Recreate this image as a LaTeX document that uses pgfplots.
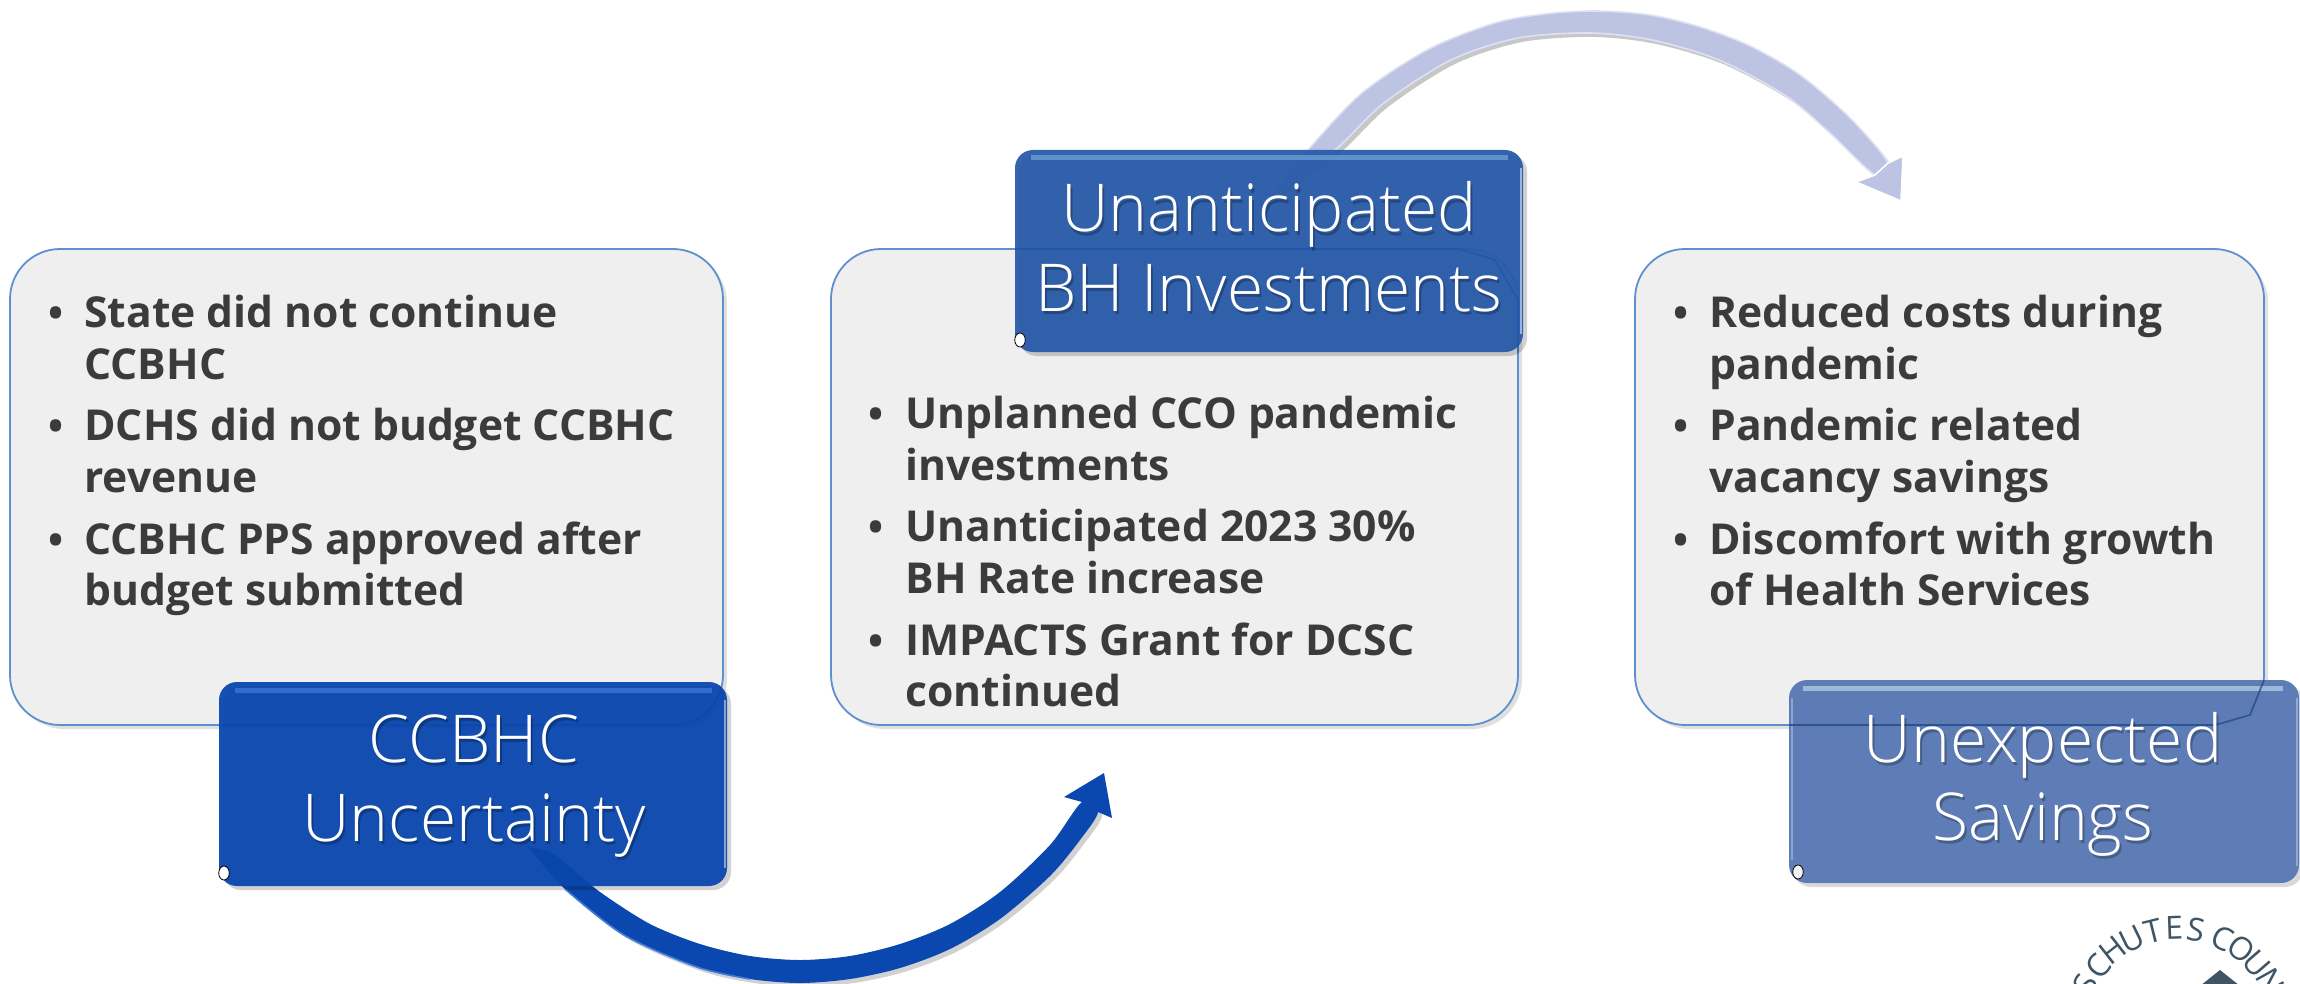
\documentclass[border=0pt]{standalone}
\usepackage{fontspec}
\setmainfont{Open Sans}
\newfontfamily\lightfont{Open Sans Light}
\usepackage{pgfplots}
\usepackage{pgfplotstable}
\pgfplotsset{compat=1.18}

\definecolor{panel}{HTML}{EFEFEF}
\definecolor{paneledge}{HTML}{5E8FD0}
\definecolor{bodytext}{HTML}{3B3B3B}
\definecolor{blueA}{HTML}{0A47AE}
\definecolor{blueB}{HTML}{2A5BAA}
\definecolor{blueC}{HTML}{5A7AB6}
\definecolor{stripA}{HTML}{3F7BD8}
\definecolor{stripB}{HTML}{6B9FD6}
\definecolor{stripC}{HTML}{A3C2DC}
\definecolor{lilac}{HTML}{BCC3E3}
\definecolor{slate}{HTML}{3F5566}
\definecolor{logosky}{HTML}{6BA8DD}
\definecolor{logosun}{HTML}{FBD800}

% arrow shafts, outer edge then inner edge, in pixels of the reference
\pgfplotstableread{
x y
528 847
565 889
624 935
697 967
750 979
800 983
850 979
900 968
950 949
1000 919
1050 876
1080 840
1098 812
1082 802
1050 845
1000 892
950 924
900 944
850 956
800 960
750 956
700 944
650 924
600 892
570 867
550 852
528 847
}\shaftA
\pgfplotstableread{
x y
1082 802
1064 797
1104 773
1112 818
1098 812
}\tipA
\pgfplotstableread{
x y
1268 200
1308 150
1362 93
1429 49
1495 23
1545 14
1595 11
1650 15
1700 27
1750 46
1800 75
1850 118
1888 163
1875 175
1830 133
1786 96
1719 60
1652 40
1590 33
1518 38
1451 60
1384 103
1335 150
1268 200
}\shaftB
\pgfplotstableread{
x y
1888 163
1903 156
1901 201
1856 182
1875 175
}\tipB

% #1 style, #2 x1, #3 y1, #4 x2, #5 y2
\newcommand{\roundbox}[5]{\addplot[#1] coordinates {(#2,#3)(#4,#3)(#4,#5)(#2,#5)} -- cycle;}
\newcommand{\seg}[5]{\addplot[#1] coordinates {(#2,#3)(#4,#5)};}
\newcommand{\spot}[3]{\addplot[only marks,mark=*,mark size=3.5pt,mark options={fill=#1,draw=none,xscale=.75}] coordinates {(#2,#3)};}
% bullet line: #1 bullet x, #2 text x, #3 baseline, #4 text
\newcommand{\bulletline}[4]{%
  \node[anchor=base,text=bodytext,font=\fontsize{20}{24}\selectfont\bfseries] at (axis cs:#1,#3) {\textbullet};
  \node[anchor=base west,inner sep=0pt,text=bodytext,font=\fontsize{21.3}{24}\selectfont\bfseries] at (axis cs:#2,#3) {#4};}
\newcommand{\nextline}[3]{%
  \node[anchor=base west,inner sep=0pt,text=bodytext,font=\fontsize{21.3}{24}\selectfont\bfseries] at (axis cs:#1,#2) {#3};}
% heading line: #1 x, #2 baseline, #3 text
\newcommand{\boxhead}[3]{%
  \node[anchor=base,inner sep=0pt,text=black,opacity=.25,font=\fontsize{33}{40}\selectfont\lightfont,xshift=1pt,yshift=-1.5pt] at (axis cs:#1,#2) {#3};
  \node[anchor=base,inner sep=0pt,text=white,font=\fontsize{33}{40}\selectfont\lightfont] at (axis cs:#1,#2) {#3};}
% logo letter: #1 angle from the vertical, #2 x, #3 y, #4 letter
\newcommand{\logoletter}[4]{%
  \node[rotate=-#1,inner sep=0pt,text=slate,font=\fontsize{16}{18}\selectfont] at (axis cs:#2,#3) {#4};}

\begin{document}
\begin{tikzpicture}
\useasboundingbox (0,0) rectangle (1150pt,492pt);
\begin{axis}[
  hide axis,
  scale only axis,
  width=1150pt,
  height=492pt,
  xmin=0, xmax=2300,
  ymin=0, ymax=984,
  y dir=reverse,
]

% arrows
\addplot[smooth,draw=none,fill=black,fill opacity=.18,shift={(2pt,-2pt)}] table {\shaftA};
\addplot[smooth,draw=none,fill=blueA] table {\shaftA};
\addplot[draw=none,fill=blueA] table {\tipA} -- cycle;
\addplot[smooth,draw=stripA,line width=.8pt] coordinates {(565,889)(624,935)(697,967)(750,979)};
\addplot[smooth,draw=none,fill=black,fill opacity=.22,shift={(2pt,-2pt)}] table {\shaftB};
\addplot[smooth,draw=white!50!lilac,line width=.8pt,fill=lilac] table {\shaftB};
\addplot[draw=white,line width=.8pt,fill=lilac,line join=miter] table {\tipB} -- cycle;

% panels
\roundbox{draw=none,fill=black,fill opacity=.12,rounded corners=25pt,shift={(2pt,-2pt)}}{10}{249}{723}{725}
\roundbox{draw=paneledge,line width=.9pt,fill=panel,rounded corners=25pt}{10}{249}{723}{725}
\roundbox{draw=none,fill=black,fill opacity=.12,rounded corners=25pt,shift={(2pt,-2pt)}}{831}{249}{1518}{725}
\roundbox{draw=paneledge,line width=.9pt,fill=panel,rounded corners=25pt}{831}{249}{1518}{725}
\roundbox{draw=none,fill=black,fill opacity=.12,rounded corners=25pt,shift={(2pt,-2pt)}}{1635}{249}{2264}{725}
\roundbox{draw=paneledge,line width=.9pt,fill=panel,rounded corners=25pt}{1635}{249}{2264}{725}

% panel text
\bulletline{56}{84}{327}{State did not continue}
\nextline{84}{379}{CCBHC}
\bulletline{56}{84}{440}{DCHS did not budget CCBHC}
\nextline{84}{492}{revenue}
\bulletline{56}{84}{554}{CCBHC PPS approved after}
\nextline{84}{605}{budget submitted}

\bulletline{876}{905}{428}{Unplanned CCO pandemic}
\nextline{905}{480}{investments}
\bulletline{876}{905}{541}{Unanticipated 2023 30\%}
\nextline{905}{593}{BH Rate increase}
\bulletline{876}{905}{655}{IMPACTS Grant for DCSC}
\nextline{905}{706}{continued}

\bulletline{1681}{1709}{327}{Reduced costs during}
\nextline{1709}{379}{pandemic}
\bulletline{1681}{1709}{440}{Pandemic related}
\nextline{1709}{492}{vacancy savings}
\bulletline{1681}{1709}{554}{Discomfort with growth}
\nextline{1709}{605}{of Health Services}

% heading boxes
\roundbox{draw=none,fill=black,fill opacity=.18,rounded corners=9pt,shift={(2pt,-2pt)}}{219}{682}{727}{886}
\roundbox{draw=none,fill=blueA,fill opacity=.95,rounded corners=9pt}{219}{682}{727}{886}
\seg{draw=stripA,line width=2.5pt,opacity=.7}{235}{690}{712}{690}
\seg{draw=white!55!blueA,line width=1.2pt,opacity=.9}{725}{700}{725}{868}
\spot{white}{224}{873}

\roundbox{draw=none,fill=black,fill opacity=.18,rounded corners=9pt,shift={(2pt,-2pt)}}{1015}{150}{1523}{352}
\roundbox{draw=none,fill=blueB,fill opacity=.95,rounded corners=9pt}{1015}{150}{1523}{352}
\seg{draw=stripB,line width=2.5pt,opacity=.8}{1031}{158}{1508}{158}
\seg{draw=white!60!blueB,line width=1.2pt,opacity=.9}{1521}{168}{1521}{334}
\spot{white}{1020}{340}
\addplot[blueA,line width=.7pt,opacity=.4] coordinates {(1015,249)(1460,249)(1495,260)(1518,300)(1518,352)};

\roundbox{draw=none,fill=black,fill opacity=.15,rounded corners=9pt,shift={(2pt,-2pt)}}{1789}{680}{2299}{883}
\roundbox{draw=none,fill=blueC,fill opacity=.97,rounded corners=9pt}{1789}{680}{2299}{883}
\seg{draw=stripC,line width=2.5pt,opacity=.9}{1803}{688}{2283}{688}
\seg{draw=white!40!blueC,line width=1.4pt,opacity=.9}{2297}{698}{2297}{866}
\seg{draw=white!35!blueC,line width=1.4pt,opacity=.9}{1792}{698}{1792}{860}
\spot{white!90!gray}{1798}{872}
\addplot[blueB!80!black,line width=.8pt,opacity=.8] coordinates {(1789,725)(2215,725)(2250,715)(2264,680)};

% headings
\boxhead{474}{762}{CCBHC}
\boxhead{474}{841}{Uncertainty}
\boxhead{1269}{232}{Unanticipated}
\boxhead{1269}{311}{BH Investments}
\boxhead{2043}{762}{Unexpected}
\boxhead{2043}{840}{Savings}

% logo
\addplot[only marks,mark=*,mark size=43pt,mark options={fill=white,draw=gray!50}] coordinates {(2178,1033)};
\addplot[only marks,mark=*,mark size=42pt,mark options={fill=logosky,draw=none}] coordinates {(2178,1033)};
\addplot[only marks,mark=*,mark size=11pt,mark options={fill=logosun,draw=none}] coordinates {(2161,990)};
\addplot[draw=none,fill=slate] coordinates {(2220,970)(2195,990)(2245,990)} -- cycle;
\logoletter{-62}{2085}{984}{S}
\logoletter{-50}{2098}{966}{C}
\logoletter{-38}{2113}{950}{H}
\logoletter{-26}{2132}{939}{U}
\logoletter{-14}{2153}{931}{T}
\logoletter{-2}{2174}{928}{E}
\logoletter{10}{2196}{930}{S}
\logoletter{25}{2222}{938}{C}
\logoletter{37}{2241}{949}{O}
\logoletter{49}{2257}{964}{U}
\logoletter{61}{2270}{982}{N}
\end{axis}
\end{tikzpicture}
\end{document}
